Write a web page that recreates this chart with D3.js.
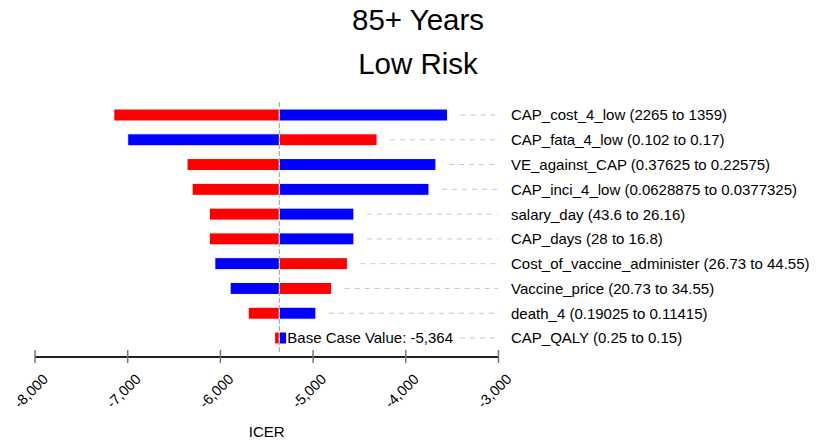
<!DOCTYPE html>
<html>
<head>
<meta charset="utf-8">
<script src="https://cdn.jsdelivr.net/npm/d3@7"></script>
<style>
  body { margin: 0; background: #fff; }
  text { font-family: "Liberation Sans", Arial, sans-serif; fill: #000; }
</style>
</head>
<body>
<div id="chart"></div>
<script>
// parameters (top to bottom) and their ranges
var params = ["CAP_cost_4_low", "CAP_fata_4_low", "VE_against_CAP", "CAP_inci_4_low", "salary_day",
    "CAP_days", "Cost_of_vaccine_administer", "Vaccine_price", "death_4", "CAP_QALY"];
var ranges = ["(2265 to 1359)", "(0.102 to 0.17)", "(0.37625 to 0.22575)", "(0.0628875 to 0.0377325)",
    "(43.6 to 26.16)", "(28 to 16.8)", "(26.73 to 44.55)", "(20.73 to 34.55)", "(0.19025 to 0.11415)", "(0.25 to 0.15)"];
// ICER at each end of the range (red bar end, blue bar end)
var icerRed  = [-7150, -4310, -6360, -6305, -6120, -6120, -4630, -4800, -5700, -5415];
var icerBlue = [-3550, -7000, -3675, -3750, -4560, -4560, -6060, -5895, -4970, -5285];
var baseCase = -5364;
var xTicks = [-8000, -7000, -6000, -5000, -4000, -3000];
var titleLines = ["85+ Years", "Low Risk"];

var W = 829, H = 443;
var svg = d3.select("#chart").append("svg")
    .attr("width", W)
    .attr("height", H);

// plain hyphen for negatives, like the original
var fmt = d3.formatLocale({ decimal: ".", thousands: ",", grouping: [3], currency: ["$", ""], minus: "-" }).format(",");

var x = d3.scaleLinear().domain([-8000, -3000]).range([35, 498.5]);
var y = d3.scalePoint().domain(params).range([115, 338]);
var barH = 12;

var rows = params.map(function (p, i) {
    return { name: p, label: p + " " + ranges[i], red: icerRed[i], blue: icerBlue[i] };
});

// title
svg.selectAll(".title")
    .data(titleLines)
    .enter()
    .append("text")
    .attr("x", 418)
    .attr("y", function (d, i) { return 30 + i * 44; })
    .attr("text-anchor", "middle")
    .style("font-size", "29.5px")
    .text(function (d) { return d; });

// bars
var bars = svg.append("g");
rows.forEach(function (d) {
    [["red", d.red], ["blue", d.blue]].forEach(function (s) {
        var x0 = Math.min(x(s[1]), x(baseCase)), x1 = Math.max(x(s[1]), x(baseCase));
        bars.append("rect")
            .attr("x", x0)
            .attr("y", y(d.name) - barH / 2)
            .attr("width", x1 - x0)
            .attr("height", barH)
            .attr("fill", s[0] == "red" ? "#ff0000" : "#0000ff")
            .attr("stroke", "#fff")
            .attr("stroke-width", 1);
    });
});

// base case line
svg.append("line")
    .attr("x1", x(baseCase)).attr("x2", x(baseCase))
    .attr("y1", 102).attr("y2", 354)
    .attr("stroke", "#a0a0a0")
    .attr("stroke-width", 1)
    .attr("stroke-dasharray", "5,2");

// base case label
var baseLabel = svg.append("text")
    .attr("x", x(baseCase) + 8)
    .attr("y", y(params[params.length - 1]))
    .attr("dy", "0.36em")
    .style("font-size", "15px")
    .text("Base Case Value: " + fmt(baseCase));
var baseEnd = x(baseCase) + 8 + baseLabel.node().getComputedTextLength();

// dashed leader lines
svg.selectAll(".lead")
    .data(rows)
    .enter()
    .append("line")
    .attr("x1", function (d, i) {
        if (i == rows.length - 1) return baseEnd + 7;
        return Math.max(x(d.red), x(d.blue)) + 13;
    })
    .attr("x2", 498)
    .attr("y1", function (d) { return y(d.name); })
    .attr("y2", function (d) { return y(d.name); })
    .attr("stroke", "#c8c8c8")
    .attr("stroke-width", 1)
    .attr("stroke-dasharray", "5,5");

// parameter labels
svg.selectAll(".plabel")
    .data(rows)
    .enter()
    .append("text")
    .attr("x", 511)
    .attr("y", function (d) { return y(d.name); })
    .attr("dy", "0.36em")
    .style("font-size", "15px")
    .text(function (d) { return d.label; });

// x axis
var axisY = 357;
var axis = svg.append("g").attr("transform", "translate(0," + axisY + ")");
axis.append("line")
    .attr("x1", x(-8000)).attr("x2", x(-3000))
    .attr("stroke", "#222").attr("stroke-width", 2);
axis.selectAll(".tick")
    .data(xTicks)
    .enter()
    .append("line")
    .attr("x1", function (d) { return x(d); })
    .attr("x2", function (d) { return x(d); })
    .attr("y1", -7).attr("y2", 6)
    .attr("stroke", "#777").attr("stroke-width", 1.5);
svg.selectAll(".tlabel")
    .data(xTicks)
    .enter()
    .append("text")
    .attr("transform", function (d) { return "translate(" + (x(d) + 14) + ",380) rotate(-45)"; })
    .attr("text-anchor", "end")
    .style("font-size", "14.5px")
    .text(function (d) { return fmt(d); });

// axis title
svg.append("text")
    .attr("x", (x(-8000) + x(-3000)) / 2)
    .attr("y", 437)
    .attr("text-anchor", "middle")
    .style("font-size", "15px")
    .text("ICER");
</script>
</body>
</html>
